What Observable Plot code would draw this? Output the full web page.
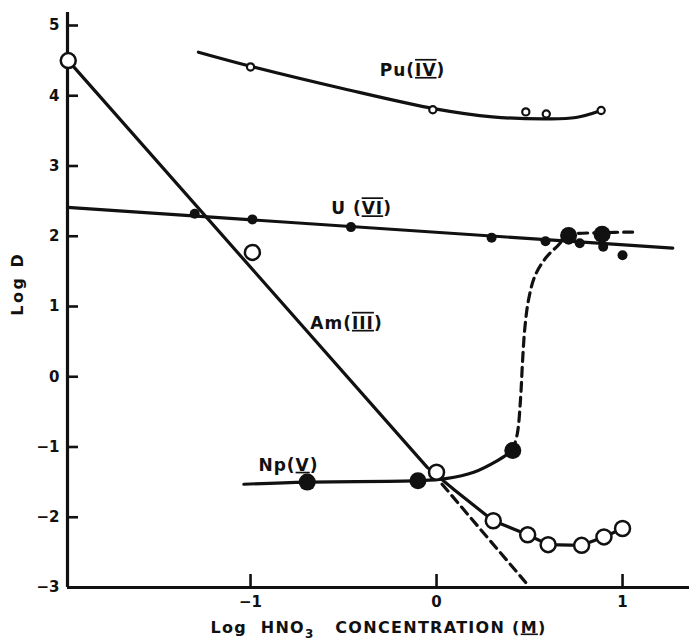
<!DOCTYPE html>
<html><head><meta charset="utf-8">
<script src="https://cdn.jsdelivr.net/npm/d3@7"></script>
<script src="https://cdn.jsdelivr.net/npm/@observablehq/plot@0.6"></script>
<style>body{margin:0;background:#fff} svg{display:block}</style>
</head><body><div id="chart"></div>
<script>
// ---- axes ----
const xDomain = [-1.984, 1.36];
const yDomain = [-3, 5.185];
const xTicks = [-1, 0, 1];
const xTickLabels = ["−1", "0", "1"];
const yTicks = [5, 4, 3, 2, 1, 0, -1, -2, -3];
const yTickLabels = ["5", "4", "3", "2", "1", "0", "−1", "−2", "−3"];
const xAxisLabel = "Log  HNO~3~   CONCENTRATION (_M_)";
const yAxisLabel = "Log D";
const yAxisLabelAt = 0.87;

// ---- Pu(IV) ----
const puX = [-1.0, -0.02, 0.48, 0.59, 0.885];
const puY = [4.41, 3.80, 3.77, 3.74, 3.79];
const puCurveX = [-1.28, -1.0, -0.5, 0.0, 0.3, 0.6, 0.75, 0.885];
const puCurveY = [4.62, 4.42, 4.10, 3.81, 3.70, 3.67, 3.69, 3.79];

// ---- U(VI) ----
const uX = [-1.30, -0.99, -0.46, 0.296, 0.586, 0.71, 0.77, 0.896, 1.0];
const uY = [2.32, 2.24, 2.13, 1.98, 1.93, 1.95, 1.90, 1.85, 1.73];
const uLineX = [-1.984, 1.27];
const uLineY = [2.41, 1.83];

// ---- Am(III) ----
const amX = [-1.98, -0.99, 0.0, 0.305, 0.49, 0.60, 0.78, 0.90, 1.0];
const amY = [4.5, 1.77, -1.36, -2.05, -2.25, -2.39, -2.40, -2.28, -2.16];
const amLineX = [-1.98, -0.05, 0.1, 0.305, 0.49, 0.60, 0.78, 0.90, 1.0];
const amLineY = [4.5, -1.29, -1.62, -2.05, -2.25, -2.39, -2.40, -2.28, -2.16];
const amDashX = [0.03, 0.496];
const amDashY = [-1.53, -2.98];

// ---- Np(V) ----
const npX = [-0.695, -0.10, 0.41, 0.71, 0.89];
const npY = [-1.50, -1.48, -1.05, 2.01, 2.03];
const npCurveX = [-1.036, -0.695, -0.10, 0.05, 0.20, 0.33, 0.41];
const npCurveY = [-1.53, -1.50, -1.48, -1.45, -1.36, -1.19, -1.05];
const npDashX = [0.41, 0.435, 0.452, 0.462, 0.475, 0.495, 0.53, 0.59, 0.65, 0.71, 0.89, 1.06];
const npDashY = [-1.05, -0.80, -0.30, 0.20, 0.70, 1.10, 1.44, 1.70, 1.86, 2.01, 2.05, 2.06];

// ---- series labels ----
const labelText = ["Pu(|IV|)", "U (|VI|)", "Am(|III|)", "Np(_V_)"];
const labelX = [-0.129, -0.403, -0.484, -0.796];
const labelY = [4.36, 2.39, 0.76, -1.26];

const zipXY = (xs, ys) => xs.map((x, i) => ({x, y: ys[i]}));
const pu = zipXY(puX, puY), puCurve = zipXY(puCurveX, puCurveY);
const u = zipXY(uX, uY), uLine = zipXY(uLineX, uLineY);
const am = zipXY(amX, amY), amLine = zipXY(amLineX, amLineY), amDash = zipXY(amDashX, amDashY);
const np = zipXY(npX, npY), npCurve = zipXY(npCurveX, npCurveY), npDash = zipXY(npDashX, npDashY);
const labels = labelText.map((t, i) => ({t, x: labelX[i], y: labelY[i]}));

const ink = "#111";
const LW = 3.2;

const plot = Plot.plot({
  width: 689, height: 644,
  marginLeft: 67, marginRight: 0, marginTop: 12, marginBottom: 57,
  x: {domain: xDomain, axis: null},
  y: {domain: yDomain, axis: null},
  style: {fontFamily: "'DejaVu Sans', sans-serif", fontWeight: "bold", background: "white", color: ink, overflow: "visible"},
  marks: [
    // axis lines
    Plot.ruleY([yDomain[0]], {stroke: ink, strokeWidth: LW}),
    Plot.ruleX([xDomain[0]], {stroke: ink, strokeWidth: LW}),
    // inward ticks
    Plot.axisX({ticks: xTicks, tickSize: 13, dy: -13, tickFormat: () => "", strokeWidth: 2.6, stroke: ink, label: null}),
    Plot.axisY({ticks: yTicks, tickSize: 11, dx: 11, tickFormat: () => "", strokeWidth: 2.6, stroke: ink, label: null}),
    // tick labels
    Plot.axisX({ticks: xTicks, tickSize: 0, tickPadding: 9, tickFormat: d => xTickLabels[xTicks.indexOf(d)], fontSize: 15, fill: ink, label: null}),
    Plot.axisY({ticks: yTicks, tickSize: 0, tickPadding: 8, tickFormat: d => yTickLabels[yTicks.indexOf(d)], fontSize: 15, fill: ink, label: null}),
    // axis titles
    Plot.text([yAxisLabel], {text: d => d, y: () => yAxisLabelAt, frameAnchor: "left", dx: -50, rotate: -90, fontSize: 16, fill: ink}),
    Plot.text([xAxisLabel], {text: d => d, frameAnchor: "bottom", dy: 45, fontSize: 16, fill: ink}),
    // curves
    Plot.line(puCurve, {x: "x", y: "y", curve: "catmull-rom", stroke: ink, strokeWidth: LW}),
    Plot.line(uLine, {x: "x", y: "y", stroke: ink, strokeWidth: LW}),
    Plot.line(amLine, {x: "x", y: "y", stroke: ink, strokeWidth: LW, strokeLinejoin: "round"}),
    Plot.line(amDash, {x: "x", y: "y", stroke: ink, strokeWidth: LW, strokeDasharray: "9,6"}),
    Plot.line(npCurve, {x: "x", y: "y", curve: "catmull-rom", stroke: ink, strokeWidth: LW}),
    Plot.line(npDash, {x: "x", y: "y", curve: "catmull-rom", stroke: ink, strokeWidth: LW, strokeDasharray: "9,6"}),
    // points
    Plot.dot(u, {x: "x", y: "y", r: 5, fill: ink, stroke: "none"}),
    Plot.dot(pu, {x: "x", y: "y", r: 3.6, fill: "white", stroke: ink, strokeWidth: 2.2}),
    Plot.dot(am, {x: "x", y: "y", r: 7.5, fill: "white", stroke: ink, strokeWidth: 2.5}),
    Plot.dot(np, {x: "x", y: "y", r: 8.5, fill: ink, stroke: "none"}),
    // labels
    Plot.text(labels, {x: "x", y: "y", text: "t", fontSize: 17, fill: ink})
  ]
});

// rich text: |..| over+underline, _.._ underline, ~..~ subscript
function richify(svg) {
  const NS = "http://www.w3.org/2000/svg";
  d3.select(svg).selectAll("text").each(function() {
    const node = this;
    const s = node.textContent;
    if (s === yAxisLabel) { node.style.letterSpacing = "2.5px"; return; }
    if (!/[|_~]/.test(s)) return;
    const parts = s.split(/(\|[^|]*\||_[^_]*_|~[^~]*~)/).filter(p => p.length);
    while (node.firstChild) node.removeChild(node.firstChild);
    let back = false;
    for (const p of parts) {
      const ts = document.createElementNS(NS, "tspan");
      if (p[0] === "|") {
        ts.textContent = p.slice(1, -1);
        ts.setAttribute("text-decoration", "underline overline");
        ts.style.textDecoration = "underline overline";
      } else if (p[0] === "_") {
        ts.textContent = p.slice(1, -1);
        ts.setAttribute("text-decoration", "underline");
        ts.style.textDecoration = "underline";
      } else if (p[0] === "~") {
        ts.textContent = p.slice(1, -1);
        ts.setAttribute("dy", "5");
        ts.setAttribute("font-size", "12");
        back = true;
        node.appendChild(ts);
        continue;
      } else {
        ts.textContent = p.replace(/ /g, "\u00a0");
      }
      if (back) { ts.setAttribute("dy", "-5"); back = false; }
      node.appendChild(ts);
    }
    node.style.letterSpacing = s.includes("CONCENTRATION") ? "1.3px" : "1px";
  });
}
richify(plot);
document.getElementById("chart").appendChild(plot);
</script>
</body></html>
